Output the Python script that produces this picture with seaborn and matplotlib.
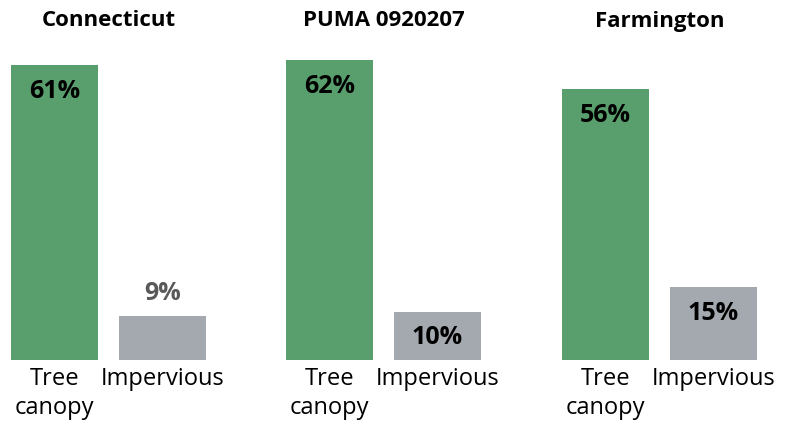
import matplotlib
matplotlib.use("Agg")
import matplotlib.pyplot as plt
import seaborn as sns
import pandas as pd

sns.set_theme(style="white")
plt.rcParams["font.family"] = ["Open Sans", "DejaVu Sans"]

regions = ["Connecticut", "PUMA 0920207", "Farmington"]
cover_types = ["Tree\ncanopy", "Impervious"]
tree_canopy = [61, 62, 56]
impervious = [9, 10, 15]

colors = {"Tree\ncanopy": "#599e6d", "Impervious": "#a4a9b0"}

W, H = 795, 421
fig = plt.figure(figsize=(W / 100, H / 100), dpi=100)

y_max = 66.1
px_per_unit = 108
axes_left_px = [0.5, 275.5, 551.5]
bottom_px = 360
top_px = bottom_px - y_max * 4.84

for i, region in enumerate(regions):
    left = axes_left_px[i]
    ax = fig.add_axes([left / W, (H - bottom_px) / H,
                       2 * px_per_unit / W, (bottom_px - top_px) / H])
    df = pd.DataFrame({"type": cover_types,
                       "value": [tree_canopy[i], impervious[i]]})
    sns.barplot(data=df, x="type", y="value", hue="type", palette=colors,
                order=cover_types, width=87 / 108, legend=False, ax=ax,
                saturation=1, linewidth=0, edgecolor="none")
    ax.set_xlim(-0.5, 1.5)
    ax.set_ylim(0, y_max)
    ax.set_xlabel("")
    ax.set_ylabel("")
    ax.set_yticks([])
    for s in ax.spines.values():
        s.set_visible(False)
    ax.tick_params(axis="x", length=0, pad=5, labelsize=17, labelcolor="#000000")
    for lbl in ax.get_xticklabels():
        lbl.set_linespacing(1.3)

    # panel heading, centred over the pair of bars
    fig.text((left + px_per_unit) / W, 1 - 21 / H, region, ha="center",
             va="center", fontsize=16, fontweight="bold", color="#000000")

    for j, v in enumerate(df["value"]):
        if v < 10:
            ax.annotate(f"{v}%", (j, v), xytext=(0, 16.5), textcoords="offset points",
                        ha="center", va="center", fontsize=18, fontweight="bold",
                        color="#595959")
        else:
            ax.annotate(f"{v}%", (j, v), xytext=(0, -19), textcoords="offset points",
                        ha="center", va="center", fontsize=18, fontweight="bold",
                        color="#000000")

fig.savefig("out.png", dpi=100)
